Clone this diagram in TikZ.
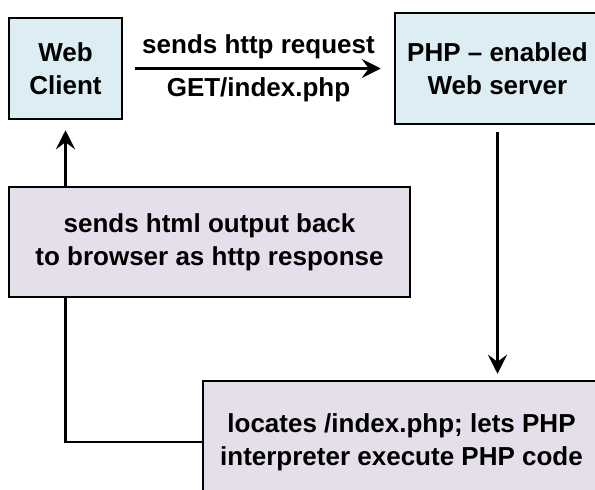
\documentclass[tikz,border=0pt]{standalone}
\usepackage{fontspec}
\setmainfont{Liberation Sans}
\usepackage{xcolor}
\usepackage{tikz}
\usetikzlibrary{arrows.meta}

\definecolor{clientblue}{HTML}{DCEEF3}
\definecolor{boxlilac}{HTML}{E4DFEB}

\begin{document}
\begin{tikzpicture}[x=1pt, y=-1pt,
    every node/.style={font=\fontsize{26}{33}\selectfont\bfseries, align=center},
    bluebox/.style={draw=black, line width=2.5pt, fill=clientblue, inner sep=0pt},
    lilacbox/.style={draw=black, line width=2.5pt, fill=boxlilac, inner sep=0pt},
    conn/.style={black, line width=2.5pt},
    arr/.style={conn, -{Stealth[length=19pt, width=19pt, inset=7pt]}}]

        \useasboundingbox (0,0) rectangle (595,490);
        \clip (0,0) rectangle (595,490);

        %KOTAK
        \node[bluebox, minimum width=113pt, minimum height=101pt] (client) at (65.5,68.5) {Web\\Client};
        \node[bluebox, minimum width=205pt, minimum height=111pt] (server) at (497.5,68.5) {PHP -- enabled\\Web server};
        \node[lilacbox, minimum width=401pt, minimum height=110pt] (resp) at (209.5,242) {sends html output back\\to browser as http response};
        \node[lilacbox, minimum width=397pt, minimum height=122pt] (interp) at (401.5,442) {locates /index.php; lets PHP\\interpreter execute PHP code};

        %PANAH
        \draw[arr, shorten <=12pt, shorten >=13pt] (client.east) -- node[above=5pt]{sends http request} node[below=5pt]{GET/index.php} (client.east -| server.west);
        \draw[arr, shorten <=7pt, shorten >=6pt] (server.south) -- (server.south |- interp.north);
        \draw[conn] (interp.west) -- (interp.west -| client.south) -- (resp.south -| client.south);
        \draw[arr, shorten >=10pt] (resp.north -| client.south) -- (client.south);
    \end{tikzpicture}
\end{document}
